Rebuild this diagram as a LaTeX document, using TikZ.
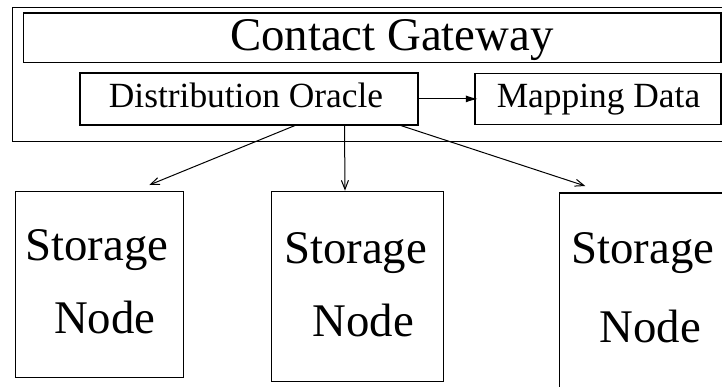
\documentclass[tikz,border=0pt]{standalone}
\usepackage{fontspec}
\setmainfont{LiberationSerif}[Extension=.ttf, UprightFont=*-Regular]
\usetikzlibrary{arrows.meta,calc}
\begin{document}
\begin{tikzpicture}[x=1pt,y=-1pt,
  box/.style={draw, line width=1.2pt, inner sep=0pt, anchor=north west},
  big/.style={font=\fontsize{46.8}{56}\selectfont, inner sep=0pt, anchor=base},
  small/.style={font=\fontsize{35.4}{42}\selectfont, inner sep=0pt, anchor=base},
  link/.style={line width=1pt, -{Straight Barb[length=9pt,width=7pt]}},
  feed/.style={line width=1pt, -{Latex[length=12pt,width=7pt]}, shorten >=-3.5pt},
]
\useasboundingbox (0,0) rectangle (722,386);
\clip (0,0) rectangle (722,386);

% gateway enclosure and its parts
\node[box, minimum width=740pt, minimum height=134.3pt] (gw) at (11.5,6.7) {};
\node[box, minimum width=697.3pt, minimum height=49.4pt] (cg) at (23,12.3) {};
\node[big] (cgt) at (391.8,50) {Contact Gateway};
\node[box, minimum width=338pt, minimum height=52pt] (do) at (79.3,72.3) {};
\node[small] (dot) at (246,107.5) {Distribution Oracle};
\node[box, minimum width=246pt, minimum height=51pt] (md) at (474.3,72.8) {};
\node[small] (mdt) at (598.5,107.5) {Mapping Data};

% storage nodes
\node[box, minimum width=168pt, minimum height=186pt] (s1) at (15,190.7) {};
\node[big] (s1a) at (96.7,260) {Storage};
\node[big] (s1b) at (104.7,333) {Node};
\node[box, minimum width=171.7pt, minimum height=190pt] (s2) at (271,190.7) {};
\node[big] (s2a) at (355.5,263.3) {Storage};
\node[big] (s2b) at (363.3,336.7) {Node};
\node[box, minimum width=200pt, minimum height=220pt] (s3) at (558.7,192.3) {};
\node[big] (s3a) at (642.8,263.3) {Storage};
\node[big] (s3b) at (650.3,342.7) {Node};

% connectors
\draw[feed] (do.east) -- (do.east -| md.west);
\draw[link] ($(do.south west)+(215.7,0)$) -- ($(s1.north west)+(134.3,-5.7)$);
\draw[link] ($(do.south west)+(265.2,0)$) -- ($(s2.north west)+(74,0)$);
\draw[link] ($(do.south west)+(321.4,0)$) -- ($(s3.north west)+(26.6,-6.3)$);
\end{tikzpicture}
\end{document}
